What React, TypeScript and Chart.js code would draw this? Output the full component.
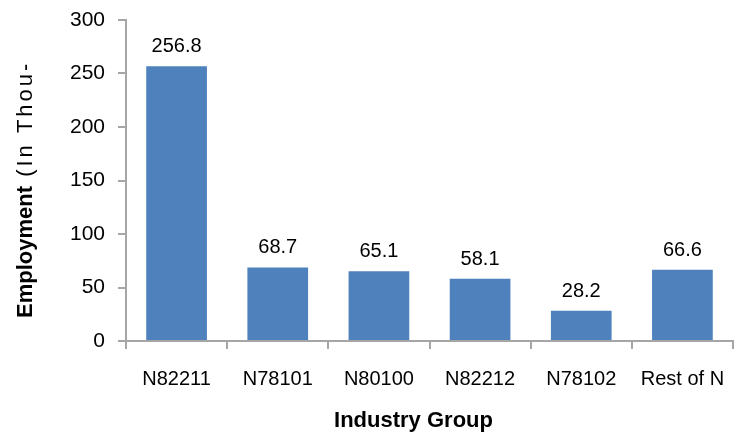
import { useEffect, useRef } from "react";
import { Chart, registerables } from "chart.js";

Chart.register(...registerables);

const categories = ["N82211", "N78101", "N80100", "N82212", "N78102", "Rest of N"];
const employment = [256.8, 68.7, 65.1, 58.1, 28.2, 66.6];
const yTicks = [0, 50, 100, 150, 200, 250, 300];
const xTitle = "Industry Group";
const yTitleBold = "Employment";
const yTitleRest = " (In Thou-";

const FONT = "'Liberation Sans', Arial, sans-serif";
const AXIS_COLOR = "#a6a6a6";
const TEXT_COLOR = "#000000";

const dataLabels = {
  id: "dataLabels",
  afterDatasetsDraw(chart: any) {
    const ctx = chart.ctx;
    const meta = chart.getDatasetMeta(0);
    ctx.save();
    ctx.font = `20px ${FONT}`;
    ctx.fillStyle = TEXT_COLOR;
    ctx.textAlign = "center";
    ctx.textBaseline = "alphabetic";
    meta.data.forEach((bar: any, i: number) => {
      ctx.fillText(employment[i].toFixed(1), bar.x, bar.y - 14);
    });
    ctx.restore();
  },
};

const axisTitles = {
  id: "axisTitles",
  afterDraw(chart: any) {
    const ctx = chart.ctx;
    const area = chart.chartArea;
    ctx.save();
    ctx.fillStyle = "#000";
    ctx.font = `bold 22px ${FONT}`;
    ctx.textAlign = "center";
    ctx.textBaseline = "middle";
    ctx.fillText(xTitle, (area.left + area.right) / 2 - 16, chart.height - 14);

    ctx.translate(area.left - 94, area.bottom - 23);
    ctx.rotate(-Math.PI / 2);
    ctx.textAlign = "left";
    ctx.textBaseline = "alphabetic";
    ctx.font = `bold 22px ${FONT}`;
    ctx.fillText(yTitleBold, 0, 0);
    const w = ctx.measureText(yTitleBold).width;
    ctx.font = `22px ${FONT}`;
    (ctx as any).letterSpacing = "3px";
    ctx.fillText(yTitleRest, w, 0);
    ctx.restore();
  },
};

export default function App() {
  const canvasRef = useRef<HTMLCanvasElement | null>(null);

  useEffect(() => {
    document.body.style.margin = "0";
    const canvas = canvasRef.current;
    if (!canvas) return;
    const chart = new Chart(canvas, {
      type: "bar",
      data: {
        labels: categories,
        datasets: [
          {
            data: employment,
            backgroundColor: "#4f81bd",
            borderWidth: 0,
            barPercentage: 0.6,
            categoryPercentage: 1,
          },
        ],
      },
      options: {
        responsive: false,
        animation: false,
        devicePixelRatio: 1,
        layout: { padding: { top: 20, right: 13, left: 0, bottom: 0 } },
        plugins: {
          legend: { display: false },
          tooltip: { enabled: false },
          title: { display: false },
        },
        scales: {
          x: {
            grid: {
              drawOnChartArea: false,
              drawTicks: true,
              tickLength: 8,
              color: AXIS_COLOR,
              lineWidth: 2,
              offset: true,
            },
            border: { color: AXIS_COLOR, width: 2 },
            ticks: {
              font: { family: FONT, size: 20 },
              color: TEXT_COLOR,
              padding: 18,
              maxRotation: 0,
              autoSkip: false,
            },
            afterFit(scale: any) {
              scale.height = 94;
            },
          },
          y: {
            min: 0,
            max: 300,
            afterBuildTicks(scale: any) {
              scale.ticks = yTicks.map((v) => ({ value: v }));
            },
            grid: {
              drawOnChartArea: false,
              drawTicks: true,
              tickLength: 8,
              color: AXIS_COLOR,
              lineWidth: 2,
            },
            border: { color: AXIS_COLOR, width: 2 },
            ticks: {
              font: { family: FONT, size: 21 },
              color: TEXT_COLOR,
              padding: 13,
            },
            afterFit(scale: any) {
              scale.width = 126;
              scale.paddingTop = 0;
              scale.paddingBottom = 0;
            },
          },
        },
      },
      plugins: [dataLabels, axisTitles],
    });
    return () => chart.destroy();
  }, []);

  return (
    <div style={{ width: 746, height: 435, position: "relative" }}>
      <canvas ref={canvasRef} width={746} height={435} />
    </div>
  );
}
